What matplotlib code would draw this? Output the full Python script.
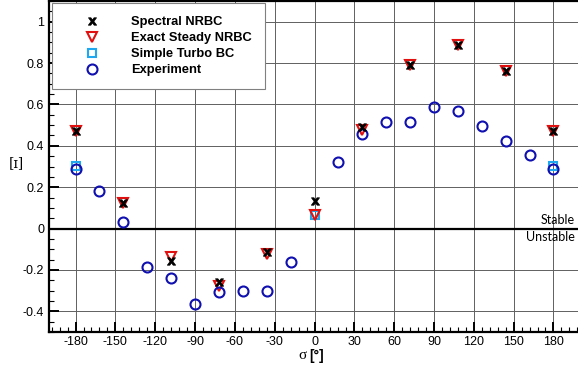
import numpy as np
import matplotlib.pyplot as plt
from matplotlib.ticker import MultipleLocator

plt.rcParams['font.family'] = 'Liberation Sans'
plt.rcParams['axes.unicode_minus'] = False

# phase angle of each blade passage [deg]
sigma_sim = [-180, -144, -108, -72, -36, 0, 36, 72, 108, 144, 180]
spectral = [0.47, 0.125, -0.155, -0.26, -0.115, 0.133, 0.493, 0.79, 0.885, 0.76, 0.47]
exact = [0.47, 0.125, -0.138, -0.279, -0.123, 0.066, 0.478, 0.792, 0.886, 0.763, 0.47]

sigma_simple = [-180, 0, 180]
simple = [0.302, 0.066, 0.302]

sigma_exp = [-180, -162, -144, -126, -108, -90, -72, -54, -36, -18,
             18, 36, 54, 72, 90, 108, 126, 144, 162, 180]
experiment = [0.287, 0.18, 0.03, -0.184, -0.238, -0.364, -0.306, -0.30, -0.30, -0.16,
              0.324, 0.455, 0.513, 0.513, 0.59, 0.567, 0.494, 0.423, 0.356, 0.287]

fig = plt.figure(figsize=(5.78, 3.70), dpi=100)
ax = fig.add_axes([49/578, 38/370, 531/578, 331/370])

ax.plot(sigma_simple, simple, 's', ms=6.3, mfc='none', mec='#1ea8f0', mew=1.5,
        label='Simple Turbo BC', zorder=3)
ax.plot(sigma_sim, exact, 'v', ms=7.5, mfc='none', mec='#e01010', mew=1.5,
        label='Exact Steady NRBC', zorder=4)
ax.plot(sigma_exp, experiment, 'o', ms=7.2, mfc='none', mec='#1010b0', mew=1.5,
        label='Experiment', zorder=5)
ax.plot(sigma_sim, spectral, ls='none', marker=r'$\mathbf{x}$', ms=6,
        color='black', mew=0.5, label='Spectral NRBC', zorder=6)

ax.axhline(0, color='black', lw=1.6, zorder=2)
ax.text(196, 0.01, 'Stable', ha='right', va='bottom', fontsize=9, family='Lato')
ax.text(196, -0.01, 'Unstable', ha='right', va='top', fontsize=9, family='Lato')

ax.set_xlim(-200, 200)
ax.set_ylim(-0.5, 1.1)
ax.xaxis.set_major_locator(MultipleLocator(30))
ax.xaxis.set_minor_locator(MultipleLocator(6))
ax.yaxis.set_minor_locator(MultipleLocator(0.05))
ax.set_yticks(np.arange(-0.4, 1.01, 0.2))
ax.set_yticklabels(['-0.4', '-0.2', '0', '0.2', '0.4', '0.6', '0.8', '1'])
ax.tick_params(which='both', direction='in', labelsize=9, color='black')
ax.tick_params(which='major', length=7, width=1.4)
ax.tick_params(which='minor', length=3.5, width=0.8)
ax.tick_params(axis='x', pad=3)
ax.grid(True, which='major', color='#606060', lw=0.7, zorder=0)

for side in ['left', 'bottom', 'top']:
    ax.spines[side].set_linewidth(1.6)
ax.spines['right'].set_visible(False)

# axis titles: serif sigma followed by bold unit
ax.text(0.485, -0.072, 'σ', transform=ax.transAxes, ha='right', va='center',
        fontsize=11, family='Liberation Serif')
ax.text(0.49, -0.072, '[°]', transform=ax.transAxes, ha='left', va='center',
        fontsize=10, fontweight='bold')
ax.set_ylabel('[ɪ]', fontsize=10, family='DejaVu Serif', rotation=0, labelpad=8)
ax.yaxis.set_label_coords(-0.062, 0.49)

handles, labels = ax.get_legend_handles_labels()
order = [3, 1, 0, 2]
leg = ax.legend([handles[i] for i in order], [labels[i] for i in order],
                loc='upper left', bbox_to_anchor=(0.005, 0.993),
                prop={'weight': 'bold', 'size': 9.3}, fancybox=False,
                edgecolor='#808080', framealpha=1, borderpad=1.0,
                handlelength=4.3, handletextpad=0.85, labelspacing=0.3,
                borderaxespad=0)
leg.get_frame().set_linewidth(0.8)
leg.set_zorder(10)

fig.savefig('out.png', dpi=100)
